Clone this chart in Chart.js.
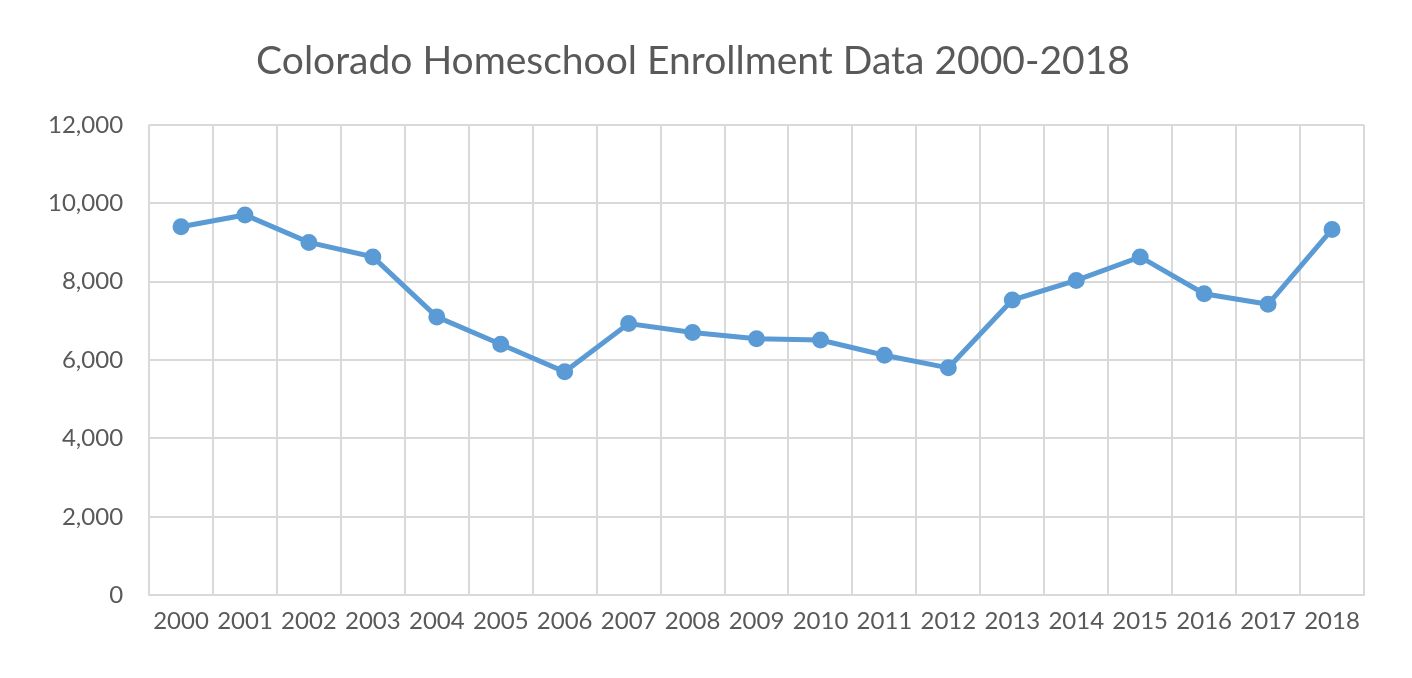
<!DOCTYPE html>
<html>
<head>
<meta charset="utf-8">
<script src="https://cdn.jsdelivr.net/npm/chart.js@4"></script>
<style>
  html, body { margin: 0; padding: 0; background: #fff; }
  #wrap { width: 1412px; height: 678px; }
</style>
</head>
<body>
<div id="wrap"><canvas id="lineChart" width="1412" height="678"></canvas></div>
<script>
const years = ['2000','2001','2002','2003','2004','2005','2006','2007','2008','2009','2010','2011','2012','2013','2014','2015','2016','2017','2018'];
const enrollment = [9400, 9700, 9000, 8630, 7100, 6400, 5700, 6930, 6700, 6540, 6510, 6120, 5800, 7530, 8030, 8630, 7690, 7420, 9330];
const yTicks = [0, 2000, 4000, 6000, 8000, 10000, 12000];

const ctx = document.getElementById('lineChart').getContext('2d');
const fontFam = 'Lato, "Open Sans", sans-serif';
const grey = '#595959';
const gridColor = '#d9d9d9';

new Chart(ctx, {
    type: 'line',
    data: {
        labels: years,
        datasets: [{
            label: 'Enrollment',
            data: enrollment,
            borderColor: '#5b9bd5',
            backgroundColor: '#5b9bd5',
            borderWidth: 5,
            pointRadius: 6,
            pointHoverRadius: 6,
            tension: 0,
            fill: false
        }]
    },
    options: {
        responsive: false,
        animation: false,
        layout: { padding: { left: 22, right: 48, top: 28, bottom: 30 } },
        plugins: {
            legend: { display: false },
            tooltip: { enabled: false },
            title: {
                display: true,
                text: 'Colorado Homeschool Enrollment Data 2000-2018',
                color: grey,
                font: { family: fontFam, size: 39, weight: 'normal' },
                padding: { top: 10, bottom: 40 }
            }
        },
        scales: {
            x: {
                offset: true,
                grid: { offset: true, color: gridColor, lineWidth: 2, drawTicks: false },
                border: { color: gridColor, width: 2 },
                ticks: { color: grey, font: { family: fontFam, size: 24 }, padding: 12, maxRotation: 0, autoSkip: false }
            },
            y: {
                min: 0,
                max: 12000,
                afterBuildTicks: axis => { axis.ticks = yTicks.map(v => ({ value: v })); },
                grid: { color: gridColor, lineWidth: 2, drawTicks: false },
                border: { display: false },
                ticks: {
                    color: grey,
                    font: { family: fontFam, size: 24 },
                    padding: 26,
                    callback: v => v.toLocaleString('en-US')
                }
            }
        }
    }
});
</script>
</body>
</html>
